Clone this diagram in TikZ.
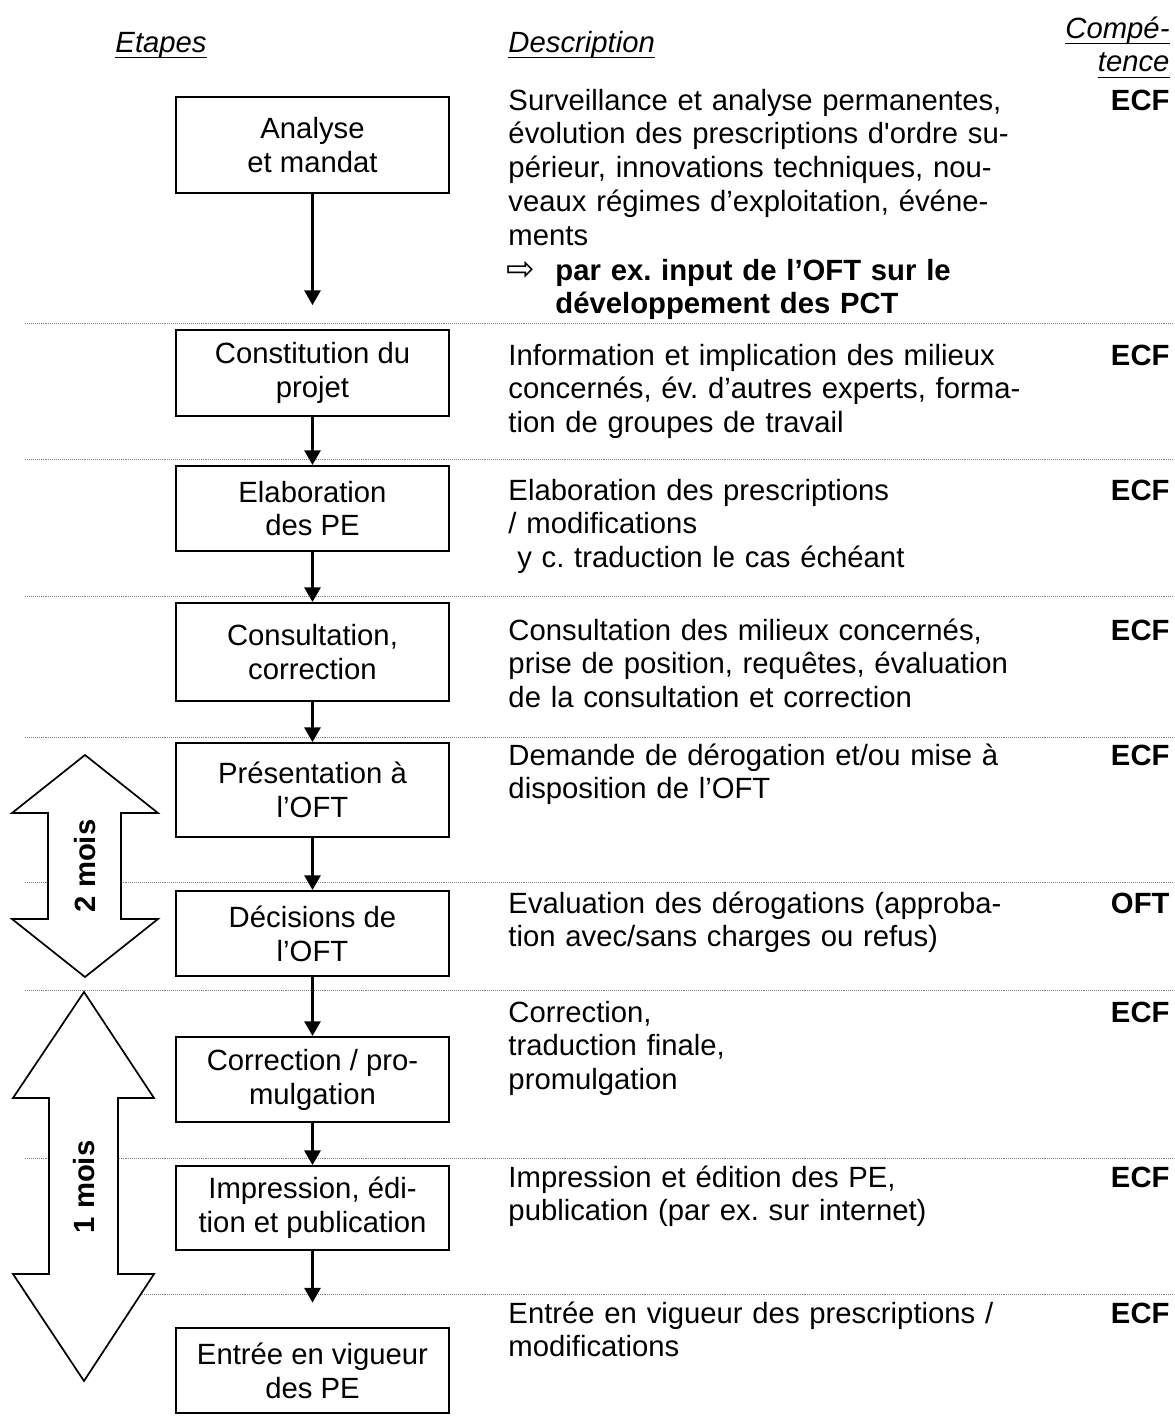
\documentclass[tikz,border=0pt]{standalone}
\usepackage{fontspec}
\setmainfont{Liberation Sans}
\newfontfamily\dejavu{DejaVu Sans}
\usetikzlibrary{arrows.meta}
\AtBeginDocument{\fontsize{12}{13.9}\selectfont\frenchspacing}
\newcommand\souligne[1]{\leavevmode\setbox0=\hbox{#1}\rlap{\rule[-2.6pt]{\wd0}{0.5pt}}\box0}
\tikzset{
    etape/.style ={rectangle, draw=black, line width=0.8pt, minimum width=112pt, minimum height=34.9pt, align=center, inner sep=1pt},
    desc/.style ={anchor=base west, inner sep=0pt, text width=225pt, align=left},
    comp/.style ={anchor=base east, inner sep=0pt, font=\bfseries},
    fleche/.style ={line width=1pt, -{Triangle[width=6.6pt,length=6pt]}},
    sepline/.style ={gray, line width=0.4pt, dash pattern=on 0.4pt off 0.4pt},
    duree/.style ={draw=black, line width=0.7pt, fill=white}
}
\begin{document}
\begin{tikzpicture}[x=0.41pt,y=-0.41pt]
        \useasboundingbox (0,0) rectangle (1174,1423);
        % separateurs
        \foreach \yy in {323,459,596,737,882,990,1158,1294}
            \draw[sepline] (25,\yy)--(1174,\yy);
        % en-tetes
        \node[anchor=base west, inner sep=0pt] (hetapes) at (115,52) {\souligne{\textit{Etapes}}};
        \node[anchor=base west, inner sep=0pt] (hdesc) at (508,52) {\souligne{\textit{Description}}};
        \node[anchor=base east, inner sep=0pt, text width=50pt, align=right] (hcomp) at (1170,38) {\souligne{\textit{Compé-}}\\\souligne{\textit{tence}}};
        % etapes
        \node[etape, minimum height=39.4pt] (analyse) at (312.5,145) {Analyse\\et mandat};
        \node[etape, minimum height=35.3pt] (constit) at (312.5,373) {Constitution du\\projet};
        \node[etape] (elab) at (312.5,508.5) {Elaboration\\des PE};
        \node[etape, minimum height=40.2pt] (consult) at (312.5,652) {Consultation,\\correction};
        \node[etape, minimum height=38.5pt] (present) at (312.5,790) {Présentation à\\l’OFT};
        \node[etape] (decis) at (312.5,933.5) {Décisions de\\l’OFT};
        \node[etape] (correct) at (312.5,1079.5) {Correction / pro-\\mulgation};
        \node[etape, minimum height=34.4pt] (impress) at (312.5,1208) {Impression, édi-\\tion et publication};
        \node[etape] (entree) at (312.5,1370.5) {Entrée en vigueur\\des PE};
        \draw[fleche, shorten >=9.8pt] (analyse)--(constit);
        \draw[fleche] (constit)--(elab);
        \draw[fleche] (elab)--(consult);
        \draw[fleche] (consult)--(present);
        \draw[fleche] (present)--(decis);
        \draw[fleche] (decis)--(correct);
        \draw[fleche] (correct)--(impress);
        \draw[fleche, shorten >=10pt] (impress)--(entree);
        % descriptions
        \node[desc] (d1) at (508,110) {Surveillance et analyse permanentes,\\évolution des prescriptions d\textquotesingle ordre su-\\périeur, innovations techniques, nou-\\veaux régimes d’exploitation, événe-\\ments};
        \node[anchor=base west, inner sep=0pt, font=\dejavu\fontsize{14}{14}\selectfont] (d1fl) at (506,280) {⇨};
        \node[desc, font=\bfseries] (d1b) at (555,280) {par ex. input de l’OFT sur le\\développement des PCT};
        \node[desc] (d2) at (508,365) {Information et implication des milieux\\concernés, év. d’autres experts, forma-\\tion de groupes de travail};
        \node[desc] (d3) at (508,500) {Elaboration des prescriptions\\/ modifications\\\hspace{0.3em}y c. traduction le cas échéant};
        \node[desc] (d4) at (508,640) {Consultation des milieux concernés,\\prise de position, requêtes, évaluation\\de la consultation et correction};
        \node[desc] (d5) at (508,765) {Demande de dérogation et/ou mise à\\disposition de l’OFT};
        \node[desc] (d6) at (508,913) {Evaluation des dérogations (approba-\\tion avec/sans charges ou refus)};
        \node[desc] (d7) at (508,1022) {Correction,\\traduction finale,\\promulgation};
        \node[desc] (d8) at (508,1187) {Impression et édition des PE,\\publication (par ex. sur internet)};
        \node[desc] (d9) at (508,1323) {Entrée en vigueur des prescriptions /\\modifications};
        % competences
        \node[comp] (c1) at (1170,110) {ECF};
        \node[comp] (c2) at (1170,365) {ECF};
        \node[comp] (c3) at (1170,500) {ECF};
        \node[comp] (c4) at (1170,640) {ECF};
        \node[comp] (c5) at (1170,765) {ECF};
        \node[comp] (c6) at (1170,913) {OFT};
        \node[comp] (c7) at (1170,1022) {ECF};
        \node[comp] (c8) at (1170,1187) {ECF};
        \node[comp] (c9) at (1170,1323) {ECF};
        % durees
        \draw[duree] (85,755)--(158,813)--(121,813)--(121,919)--(158,919)--(85,977)--(12,919)--(48,919)--(48,813)--(12,813)--cycle;
        \node[rotate=90, font=\bfseries] (deuxmois) at (85,866) {2 mois};
        \draw[duree] (84,992)--(154,1098)--(118,1098)--(118,1274)--(154,1274)--(84,1381)--(13,1274)--(49,1274)--(49,1098)--(13,1098)--cycle;
        \node[rotate=90, font=\bfseries] (unmois) at (84,1187) {1 mois};
    \end{tikzpicture}
\end{document}
